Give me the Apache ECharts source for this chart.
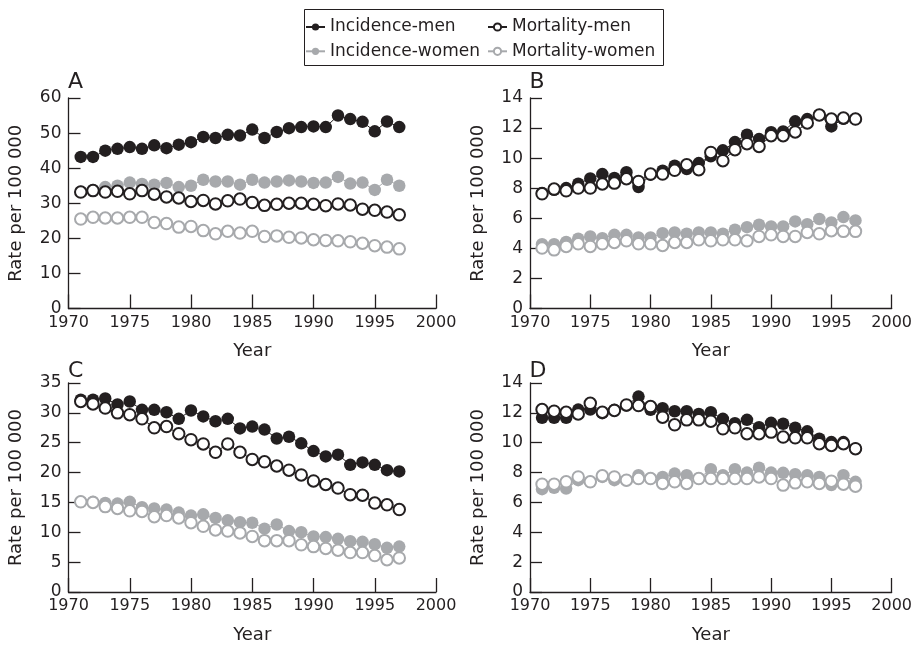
<!DOCTYPE html>
<html>
<head>
<meta charset="utf-8">
<script src="https://cdn.jsdelivr.net/npm/echarts@6/dist/echarts.min.js"></script>
<style>
  html, body { margin: 0; padding: 0; background: #fff; }
  #chart { width: 915px; height: 647px; }
</style>
</head>
<body>
<div id="chart"></div>
<script>
// Years of observation
const years = [1971, 1972, 1973, 1974, 1975, 1976, 1977, 1978, 1979, 1980, 1981, 1982, 1983, 1984,
  1985, 1986, 1987, 1988, 1989, 1990, 1991, 1992, 1993, 1994, 1995, 1996, 1997];

// Panel A
const aIncMen = [43.2, 43.2, 45.0, 45.5, 46.0, 45.5, 46.5, 45.7, 46.7, 47.4, 48.9, 48.6, 49.5, 49.3, 51.0, 48.6, 50.3, 51.4, 51.7, 51.9, 51.7, 55.0, 54.0, 53.2, 50.5, 53.3, 51.7];
const aIncWomen = [33.3, 33.8, 34.6, 35.0, 35.9, 35.5, 35.3, 35.8, 34.6, 35.0, 36.7, 36.2, 36.2, 35.3, 36.7, 35.9, 36.2, 36.5, 36.2, 35.8, 35.9, 37.5, 35.6, 35.9, 33.8, 36.7, 35.0];
const aMortMen = [33.2, 33.6, 33.2, 33.4, 32.7, 33.6, 32.6, 31.8, 31.5, 30.5, 30.8, 29.8, 30.7, 31.2, 30.2, 29.4, 29.7, 30.0, 30.0, 29.7, 29.3, 29.8, 29.5, 28.3, 28.0, 27.5, 26.7];
const aMortWomen = [25.5, 26.0, 25.8, 25.8, 26.0, 26.0, 24.5, 24.2, 23.2, 23.4, 22.2, 21.3, 22.0, 21.5, 22.0, 20.5, 20.7, 20.3, 20.1, 19.6, 19.4, 19.3, 19.0, 18.6, 17.9, 17.5, 17.0];

// Panel B
const bIncMen = [7.68, 7.90, 8.01, 8.30, 8.65, 8.94, 8.68, 9.07, 8.08, 8.90, 9.16, 9.50, 9.27, 9.67, 10.12, 10.52, 11.07, 11.56, 11.27, 11.72, 11.78, 12.45, 12.60, 12.87, 12.11, 12.62, 12.60];
const bMortMen = [7.63, 7.94, 7.83, 8.01, 8.01, 8.28, 8.34, 8.63, 8.45, 8.94, 8.94, 9.19, 9.56, 9.23, 10.38, 9.83, 10.56, 10.96, 10.78, 11.49, 11.49, 11.74, 12.34, 12.87, 12.60, 12.67, 12.60];
const bIncWomen = [4.28, 4.28, 4.42, 4.64, 4.79, 4.68, 4.90, 4.90, 4.73, 4.73, 5.01, 5.06, 4.97, 5.06, 5.06, 4.97, 5.24, 5.41, 5.57, 5.46, 5.46, 5.79, 5.61, 5.95, 5.72, 6.08, 5.86];
const bMortWomen = [4.02, 3.90, 4.13, 4.30, 4.13, 4.30, 4.39, 4.50, 4.30, 4.30, 4.19, 4.39, 4.39, 4.57, 4.50, 4.57, 4.57, 4.50, 4.79, 4.90, 4.79, 4.79, 5.06, 4.97, 5.17, 5.13, 5.13];

// Panel C
const cIncMen = [32.2, 32.2, 32.4, 31.4, 31.9, 30.5, 30.5, 30.1, 29.0, 30.4, 29.4, 28.6, 29.0, 27.4, 27.7, 27.2, 25.7, 26.0, 24.9, 23.6, 22.7, 23.0, 21.3, 21.7, 21.3, 20.4, 20.2];
const cMortMen = [31.9, 31.5, 30.8, 30.0, 29.7, 29.0, 27.5, 27.7, 26.5, 25.5, 24.8, 23.4, 24.8, 23.4, 22.2, 21.8, 21.1, 20.4, 19.6, 18.6, 18.0, 17.4, 16.3, 16.2, 14.9, 14.6, 13.8];
const cIncWomen = [15.1, 15.1, 14.9, 14.8, 15.1, 14.2, 14.0, 13.8, 13.3, 12.8, 13.0, 12.4, 12.0, 11.7, 11.6, 10.6, 11.3, 10.2, 10.0, 9.3, 9.2, 8.9, 8.5, 8.4, 8.0, 7.4, 7.6];
const cMortWomen = [15.1, 15.0, 14.3, 14.0, 13.6, 13.5, 12.6, 12.8, 12.4, 11.6, 11.0, 10.4, 10.2, 9.9, 9.3, 8.6, 8.6, 8.6, 7.9, 7.6, 7.3, 7.0, 6.6, 6.6, 6.1, 5.4, 5.7];

// Panel D
const dIncMen = [11.67, 11.67, 11.67, 12.22, 12.22, 11.98, 12.20, 12.49, 13.09, 12.20, 12.31, 12.11, 12.11, 11.93, 12.04, 11.60, 11.31, 11.53, 11.04, 11.33, 11.27, 11.00, 10.76, 10.27, 10.04, 10.04, 9.60];
const dMortMen = [12.22, 12.11, 12.04, 11.93, 12.64, 12.04, 12.16, 12.53, 12.49, 12.42, 11.71, 11.20, 11.53, 11.53, 11.44, 10.93, 11.00, 10.60, 10.60, 10.71, 10.38, 10.33, 10.33, 9.93, 9.82, 9.93, 9.60];
const dIncWomen = [6.89, 6.98, 6.93, 7.49, 7.38, 7.71, 7.49, 7.49, 7.82, 7.60, 7.71, 7.93, 7.82, 7.60, 8.22, 7.82, 8.22, 8.00, 8.33, 8.00, 7.98, 7.89, 7.82, 7.71, 7.16, 7.82, 7.38];
const dMortWomen = [7.22, 7.22, 7.38, 7.71, 7.38, 7.78, 7.71, 7.49, 7.60, 7.60, 7.27, 7.38, 7.27, 7.60, 7.60, 7.60, 7.60, 7.60, 7.71, 7.60, 7.16, 7.31, 7.38, 7.27, 7.42, 7.22, 7.09];

const panelLetters = ['A', 'B', 'C', 'D'];
const yMax = [60, 14, 35, 14];
const yStep = [10, 2, 5, 2];
const panels = [
  [aIncMen, aIncWomen, aMortMen, aMortWomen],
  [bIncMen, bIncWomen, bMortMen, bMortWomen],
  [cIncMen, cIncWomen, cMortMen, cMortWomen],
  [dIncMen, dIncWomen, dMortMen, dMortWomen]
];

const INK = '#231f20';
const GREY = '#a7a9ac';
const FONT = 'DejaVu Sans';

const grids = [
  { left: 68.5, top: 98, width: 367.5, height: 210.5 },
  { left: 530, top: 98, width: 365, height: 210.5 },
  { left: 68.5, top: 383, width: 367.5, height: 209 },
  { left: 530, top: 383, width: 365, height: 209 }
];
const letterTop = [71, 71, 360, 360];

const xAxes = grids.map((g, i) => ({
  type: 'value', gridIndex: i, min: 1970, max: 2000, interval: 5,
  name: 'Year', nameLocation: 'middle', nameGap: 34,
  nameTextStyle: { fontFamily: FONT, fontSize: 18, color: INK },
  axisLine: { show: true, onZero: false, lineStyle: { color: INK, width: 1.3 } },
  axisTick: { show: true, inside: true, length: 14, lineStyle: { color: INK, width: 1.3 } },
  axisLabel: { fontFamily: FONT, fontSize: 16, color: INK, margin: 6, formatter: v => String(v) },
  splitLine: { show: false }
}));

const yAxes = grids.map((g, i) => ({
  type: 'value', gridIndex: i, min: 0, max: yMax[i], interval: yStep[i],
  name: 'Rate per 100 000', nameLocation: 'middle', nameGap: 43, nameRotate: 90,
  nameTextStyle: { fontFamily: FONT, fontSize: 18, color: INK },
  axisLine: { show: true, onZero: false, lineStyle: { color: INK, width: 1.3 } },
  axisTick: { show: true, inside: true, length: 12, lineStyle: { color: INK, width: 1.3 } },
  axisLabel: { fontFamily: FONT, fontSize: 17, color: INK, margin: 7 },
  splitLine: { show: false }
}));

const styles = {
  'Incidence-men': { symbol: 'circle', color: INK },
  'Incidence-women': { symbol: 'circle', color: GREY },
  'Mortality-men': { symbol: 'emptyCircle', color: INK },
  'Mortality-women': { symbol: 'emptyCircle', color: GREY }
};

const series = [];
// filled markers first, open markers drawn over them
const order = [['Incidence-women', 1], ['Incidence-men', 0], ['Mortality-women', 3], ['Mortality-men', 2]];
panels.forEach((set, p) => {
  order.forEach(([name, k]) => {
    const st = styles[name];
    const open = st.symbol === 'emptyCircle';
    series.push({
      type: 'line', name: name, xAxisIndex: p, yAxisIndex: p,
      data: years.map((y, j) => [y, set[k][j]]),
      symbol: st.symbol, symbolSize: open ? 11.5 : 12.5,
      showAllSymbol: true,
      itemStyle: { color: st.color, borderColor: st.color, borderWidth: open ? 1.6 : 0 },
      lineStyle: { color: st.color, width: 1 },
      emphasis: { disabled: true },
      animation: false
    });
  });
});

const legendBase = {
  orient: 'vertical', top: 18.5, padding: 0, itemWidth: 19, itemHeight: 9, itemGap: 7.3,
  textStyle: { fontFamily: FONT, fontSize: 17, color: INK, lineHeight: 17 }
};

const option = {
  backgroundColor: '#ffffff',
  animation: false,
  grid: grids,
  xAxis: xAxes,
  yAxis: yAxes,
  title: panelLetters.map((t, i) => ({
    text: t, left: grids[i].left - 0.5, top: letterTop[i], padding: 0,
    textStyle: { fontFamily: FONT, fontSize: 22, fontWeight: 'normal', color: INK }
  })),
  legend: [
    Object.assign({ left: 305, data: ['Incidence-men', 'Incidence-women'] }, legendBase),
    Object.assign({ left: 487, data: ['Mortality-men', 'Mortality-women'] }, legendBase)
  ],
  graphic: [{
    type: 'rect', left: 302, top: 7,
    shape: { width: 359, height: 56 },
    style: { fill: 'none', stroke: INK, lineWidth: 1 }
  }],
  series: series
};

const chart = echarts.init(document.getElementById('chart'), null, { renderer: 'canvas' });
chart.setOption(option);
</script>
</body>
</html>
